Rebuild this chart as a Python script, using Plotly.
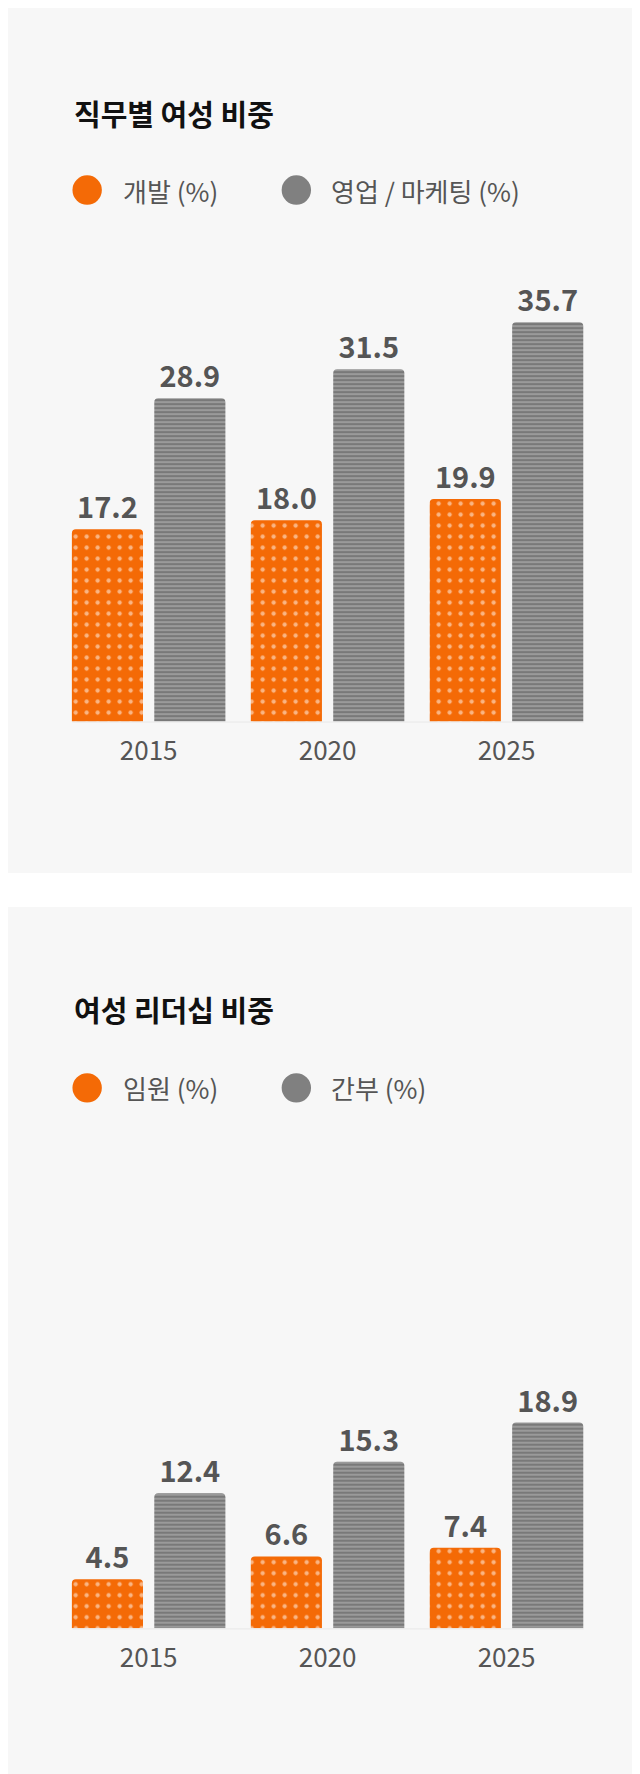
import plotly.graph_objects as go

years = ["2015", "2020", "2025"]
dev = [17.2, 18.0, 19.9]
sales = [28.9, 31.5, 35.7]
exec_ = [4.5, 6.6, 7.4]
mgr = [12.4, 15.3, 18.9]
title1 = "직무별 여성 비중"
title2 = "여성 리더십 비중"
leg1 = ["개발 (%)", "영업 / 마케팅 (%)"]
leg2 = ["임원 (%)", "간부 (%)"]

W, H = 640, 1774
S = 640 / 566
def px(x): return x * S / W
def py(y): return 1 - y * S / H

FONT = "Noto Sans CJK KR"
ORANGE = "#f46a06"
GREY = "#808080"

def orange_bar(x, y, xa, ya):
    return go.Bar(x=x, y=y, xaxis=xa, yaxis=ya, showlegend=False,
                  marker=dict(color=ORANGE, line=dict(width=0),
                              pattern=dict(shape=".", fgcolor="white", size=11, solidity=0.12)),
                  text=[f"{v:.1f}" for v in y], textposition="outside",
                  textfont=dict(family=FONT, size=29, color="#555555", weight="bold"),
                  cliponaxis=False)

def grey_bar(x, y, xa, ya):
    return go.Bar(x=x, y=y, xaxis=xa, yaxis=ya, showlegend=False,
                  marker=dict(color="#9a9a9a", line=dict(width=0),
                              pattern=dict(shape="-", fgcolor="#3a3a3a", size=4, solidity=0.35)),
                  text=[f"{v:.1f}" for v in y], textposition="outside",
                  textfont=dict(family=FONT, size=29, color="#555555", weight="bold"),
                  cliponaxis=False)

fig = go.Figure([orange_bar(years, dev, "x", "y"), grey_bar(years, sales, "x", "y"),
                 orange_bar(years, exec_, "x2", "y2"), grey_bar(years, mgr, "x2", "y2")])

xd = [px(45.25), px(520)]
tick = dict(family=FONT, size=26, color="#555555")
fig.update_layout(
    width=W, height=H, margin=dict(l=0, r=0, t=0, b=0),
    paper_bgcolor="white", plot_bgcolor="rgba(0,0,0,0)",
    barmode="group", bargap=0.079, bargroupgap=0.137, barcornerradius=4,
    xaxis=dict(domain=xd, anchor="y", showgrid=False, showline=False, ticks="", tickfont=tick, ticklabelstandoff=12),
    yaxis=dict(domain=[py(631), py(200)], range=[0, (631 - 200) / 9.89], visible=False),
    xaxis2=dict(domain=xd, anchor="y2", showgrid=False, showline=False, ticks="", tickfont=tick, ticklabelstandoff=12),
    yaxis2=dict(domain=[py(1433), py(1000)], range=[0, (1433 - 1000) / 9.63], visible=False),
)

shapes = [
    dict(type="rect", xref="paper", yref="paper", x0=0, x1=1, y0=py(765), y1=1, fillcolor="#f7f7f7", line_width=0, layer="below"),
    dict(type="rect", xref="paper", yref="paper", x0=0, x1=1, y0=0, y1=py(795), fillcolor="#f7f7f7", line_width=0, layer="below"),
    dict(type="line", xref="paper", yref="paper", x0=px(57), x1=px(509), y0=py(631.5), y1=py(631.5), line=dict(color="#e8e8e8", width=1), layer="below"),
    dict(type="line", xref="paper", yref="paper", x0=px(57), x1=px(509), y0=py(1433.5), y1=py(1433.5), line=dict(color="#e8e8e8", width=1), layer="below"),
]
anns = []
r = 13
for yc, title, ty, labels in [(161, title1, 93, leg1), (955, title2, 885, leg2)]:
    anns.append(dict(text=title, x=px(57), y=py(ty), xref="paper", yref="paper", xanchor="left", yanchor="middle",
                     showarrow=False, font=dict(family=FONT, size=29, color="#111111", weight="bold")))
    for cx, tx, col, lab in [(70, 100, ORANGE, labels[0]), (255, 284, GREY, labels[1])]:
        shapes.append(dict(type="circle", xref="paper", yref="paper",
                           x0=px(cx - r), x1=px(cx + r), y0=py(yc + r), y1=py(yc - r),
                           fillcolor=col, line_width=0))
        anns.append(dict(text=lab, x=px(tx), y=py(yc), xref="paper", yref="paper", xanchor="left", yanchor="middle",
                         showarrow=False, font=dict(family=FONT, size=26, color="#555555")))
fig.update_layout(shapes=shapes, annotations=anns)
fig.write_html("out.html")
